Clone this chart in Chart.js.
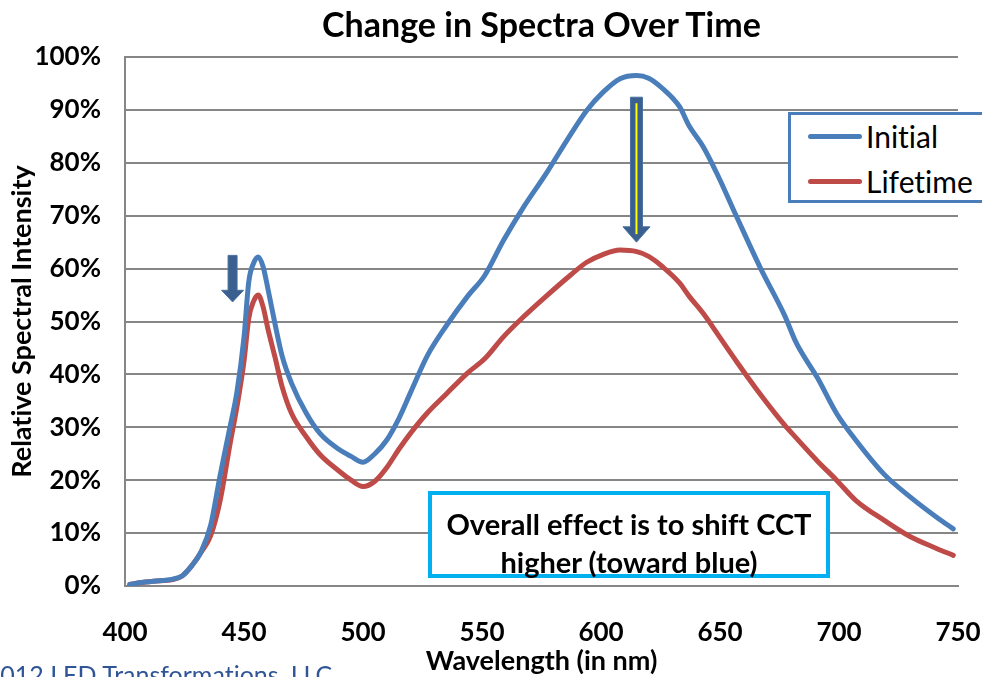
<!DOCTYPE html>
<html>
<head>
<meta charset="utf-8">
<script src="https://cdn.jsdelivr.net/npm/chart.js@4.4.1/dist/chart.umd.min.js"></script>
<style>
  html, body { margin: 0; padding: 0; background: #fff; overflow: hidden; }
  #wrap { position: relative; width: 982px; height: 677px; overflow: hidden; font-family: Lato, "Open Sans", sans-serif; font-variant-ligatures: none; font-feature-settings: "liga" 0; }
  #c { position: absolute; left: 0; top: 0; }
  #title { position: absolute; left: 125px; width: 833px; top: 4px; text-align: center; font-weight: bold; font-size: 34px; line-height: 40px; color: #000; white-space: nowrap; }
  #legend { position: absolute; left: 788px; top: 112px; width: 220px; height: 85px; border: 3px solid #4a7ebb; background: #fff; box-sizing: content-box; }
  .item { position: absolute; left: 17px; height: 40px; display: flex; align-items: center; font-size: 30px; line-height: 40px; color: #000; white-space: nowrap; }
  .swatch { display: block; width: 54px; height: 5px; border-radius: 3px; margin-right: 4px; }
  #note { position: absolute; left: 428px; top: 491px; width: 394px; height: 69px; border: 4px solid #00b0f0; background: #fff; text-align: center; font-weight: bold; font-size: 29px; line-height: 38px; color: #000; padding-top: 10px; box-sizing: content-box; white-space: nowrap; overflow: visible; }
  #footer { position: absolute; left: -35px; top: 659px; font-size: 25px; line-height: 30px; color: #2f5597; white-space: nowrap; }
</style>
</head>
<body>
<div id="wrap">
  <canvas id="c" width="982" height="677"></canvas>
  <div id="title">Change in Spectra Over Time</div>
  <div id="legend"></div>
  <div id="note">Overall effect is to shift CCT<br>higher (toward blue)</div>
  <div id="footer">©2012 LED Transformations, LLC</div>
</div>
<script>
// Wavelength samples (nm) shared by both spectra
const wavelengths = [402, 406, 412, 420, 424, 428, 432, 436, 440, 444, 447, 450, 452, 454, 456, 458, 460, 463, 466, 470,
  476, 482, 490, 495, 500, 505, 510, 515, 520, 527, 535, 544, 551, 559, 567, 577, 587, 594, 601, 608,
  615, 620, 626, 633, 637, 643, 649, 657, 667, 677, 682, 691, 699, 707, 719, 730, 741, 748];

// Relative spectral intensity (%)
const initialValues = [0.3, 0.6, 0.9, 1.3, 1.9, 3.8, 6.5, 11.5, 21.0, 29.8, 36.6, 47.0, 57.5, 61.0, 62.2, 60.4, 56.3, 49.6, 43.5, 38.3,
  32.8, 28.8, 25.8, 24.5, 23.4, 25.0, 27.6, 31.6, 36.6, 43.5, 49.2, 54.8, 58.6, 65.3, 71.3, 78.0, 85.2, 89.9, 93.4, 95.9,
  96.5, 96.0, 94.0, 90.6, 87.0, 83.0, 77.7, 69.8, 60.1, 51.3, 46.0, 39.3, 32.6, 27.6, 21.1, 16.8, 13.0, 10.8];

const lifetimeValues = [0.3, 0.6, 0.9, 1.2, 1.9, 3.8, 6.4, 9.5, 16.2, 26.5, 33.8, 42.5, 50.6, 53.8, 55.0, 52.8, 48.7, 43.3, 37.7, 32.6,
  28.3, 24.8, 21.7, 20.0, 18.8, 19.8, 22.4, 25.8, 28.9, 32.7, 36.3, 40.3, 42.9, 47.1, 50.7, 54.8, 58.7, 61.2, 62.7, 63.5,
  63.2, 62.3, 60.3, 57.3, 54.8, 51.5, 47.6, 42.4, 36.2, 30.5, 28.0, 23.6, 20.0, 16.2, 12.4, 9.3, 7.1, 5.8];

const seriesNames = ['Initial', 'Lifetime'];
const seriesColors = ['#4a7ebb', '#be4b48'];

const xTickValues = [400, 450, 500, 550, 600, 650, 700, 750];
const yTickValues = [0, 10, 20, 30, 40, 50, 60, 70, 80, 90, 100];

// Down arrows marking the drop of each peak: [wavelength, top %, head start %, tip %, shaft half-width, head half-width, yellow stripe]
const dropArrows = [
  [445.2, 62.5, 55.9, 53.7, 4.5, 11, false],
  [614.9, 92.4, 67.9, 65.0, 6, 13.5, true]
];

const tickFont = { family: 'Lato', weight: 'bold', size: 26 };
const axisTitleFont = { family: 'Lato', weight: 'bold', size: 27 };

const arrowPlugin = {
  id: 'dropArrows',
  afterDatasetsDraw(chart) {
    const { ctx, scales: { x, y } } = chart;
    dropArrows.forEach(([nm, top, neck, tip, sw, hw, stripe]) => {
      const cx = x.getPixelForValue(nm);
      const yt = y.getPixelForValue(top);
      const yn = y.getPixelForValue(neck);
      const yp = y.getPixelForValue(tip);
      ctx.save();
      ctx.beginPath();
      ctx.moveTo(cx - sw, yt);
      ctx.lineTo(cx + sw, yt);
      ctx.lineTo(cx + sw, yn);
      ctx.lineTo(cx + hw, yn);
      ctx.lineTo(cx, yp);
      ctx.lineTo(cx - hw, yn);
      ctx.lineTo(cx - sw, yn);
      ctx.closePath();
      ctx.fillStyle = '#3b5f8e';
      ctx.fill();
      ctx.strokeStyle = '#4a70a0';
      ctx.lineWidth = 1;
      ctx.stroke();
      if (stripe) {
        ctx.beginPath();
        ctx.moveTo(cx, yt + 6);
        ctx.lineTo(cx, yp - 8);
        ctx.strokeStyle = '#ffff00';
        ctx.lineWidth = 2;
        ctx.stroke();
      }
      ctx.restore();
    });
  }
};

const datasets = seriesNames.map((name, i) => ({
  label: name,
  data: wavelengths.map((w, k) => ({ x: w, y: (i === 0 ? initialValues : lifetimeValues)[k] })),
  borderColor: seriesColors[i],
  borderWidth: 5,
  borderCapStyle: 'round',
  borderJoinStyle: 'round',
  pointRadius: 0,
  fill: false,
  cubicInterpolationMode: 'monotone'
}));

// Legend entries
const legendEl = document.getElementById('legend');
seriesNames.forEach((name, i) => {
  const item = document.createElement('div');
  item.className = 'item';
  item.style.top = (i === 0 ? 1 : 46) + 'px';
  item.innerHTML = '<span class="swatch" style="background:' + seriesColors[i] + '"></span><span>' + name + '</span>';
  legendEl.appendChild(item);
});

new Chart(document.getElementById('c'), {
  type: 'line',
  data: { datasets },
  options: {
    responsive: false,
    animation: false,
    layout: { padding: { left: 0, right: 24, top: 57, bottom: 0 } },
    plugins: { legend: { display: false }, title: { display: false }, tooltip: { enabled: false } },
    scales: {
      x: {
        type: 'linear', min: 400, max: 750,
        afterBuildTicks: s => { s.ticks = xTickValues.map(v => ({ value: v })); },
        afterFit: s => { s.height = 91; s.paddingLeft = 0; s.paddingRight = 0; },
        grid: { display: false, drawTicks: false },
        border: { color: '#868686', width: 2 },
        ticks: { font: tickFont, color: '#000', padding: 31, maxRotation: 0 },
        title: { display: true, text: 'Wavelength (in nm)', font: axisTitleFont, color: '#000', padding: { top: 0, bottom: 0 } }
      },
      y: {
        min: 0, max: 100,
        afterBuildTicks: s => { s.ticks = yTickValues.map(v => ({ value: v })); },
        afterFit: s => { s.width = 125; s.paddingTop = 0; s.paddingBottom = 0; },
        grid: { color: '#868686', lineWidth: 2, drawTicks: false },
        border: { color: '#868686', width: 2 },
        ticks: { font: tickFont, color: '#000', padding: 24, callback: v => v + '%' },
        title: { display: true, text: 'Relative Spectral Intensity', font: axisTitleFont, color: '#000', padding: { top: 6, bottom: 0 } }
      }
    }
  },
  plugins: [arrowPlugin]
});
</script>
</body>
</html>
